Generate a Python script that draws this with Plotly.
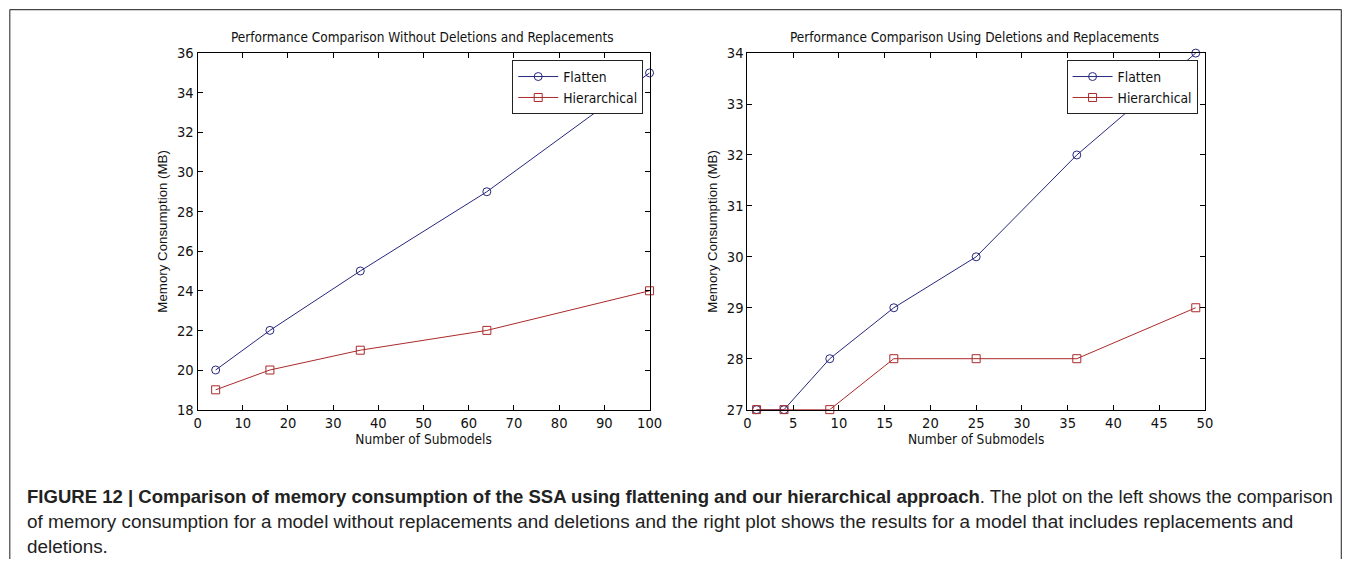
import plotly.graph_objects as go

W, H = 1355, 567

# ---- data ----
left_x = [4, 16, 36, 64, 100]
left_flatten = [20, 22, 25, 29, 35]
left_hier = [19, 20, 21, 22, 24]

right_x = [1, 4, 9, 16, 25, 36, 49]
right_flatten = [27, 27, 28, 29, 30, 32, 34]
right_hier = [27, 27, 27, 28, 28, 28, 29]

left_title = "Performance Comparison Without Deletions and Replacements"
right_title = "Performance Comparison Using Deletions and Replacements"
x_label = "Number of Submodels"
y_label = "Memory Consumption (MB)"
series_names = ["Flatten", "Hierarchical"]

left_xticks = list(range(0, 101, 10))
left_yticks = list(range(18, 37, 2))
right_xticks = list(range(0, 51, 5))
right_yticks = list(range(27, 35, 1))

caption_bold = ("FIGURE 12 | Comparison of memory consumption of the SSA using "
                "flattening and our hierarchical approach")
caption_l1 = ". The plot on the left shows the comparison"
caption_l2 = ("of memory consumption for a model without replacements and deletions "
              "and the right plot shows the results for a model that includes replacements and")
caption_l3 = "deletions."

BLUE = "#27277d"
RED = "#aa2a2a"
NARROW = "Liberation Sans Narrow, DejaVu Sans Condensed, Arial Narrow, sans-serif"
SANS = "Liberation Sans, Arial, Helvetica, sans-serif"

# calibration of the page capture (observed): screen = k * figure + offset
KX, OX = 0.9886, 3.2
KY, OY = 0.9726, 7.8


def px_x(s):
    f = (s - OX) / KX
    return min(max(f / W, 0.0), 0.9995)


def px_y(s):
    f = (s - OY) / KY
    return min(max(1 - f / H, 0.0), 0.999)


fig = go.Figure()

common = dict(mode="lines+markers", cliponaxis=False)

fig.add_trace(go.Scatter(x=left_x, y=left_flatten, name=series_names[0],
                         line=dict(color=BLUE, width=1),
                         marker=dict(symbol="circle-open", size=8, color=BLUE, line=dict(width=1)),
                         xaxis="x", yaxis="y", legend="legend", **common))
fig.add_trace(go.Scatter(x=left_x, y=left_hier, name=series_names[1],
                         line=dict(color=RED, width=1),
                         marker=dict(symbol="square-open", size=8, color=RED, line=dict(width=1)),
                         xaxis="x", yaxis="y", legend="legend", **common))
fig.add_trace(go.Scatter(x=right_x, y=right_flatten, name=series_names[0],
                         line=dict(color=BLUE, width=1),
                         marker=dict(symbol="circle-open", size=8, color=BLUE, line=dict(width=1)),
                         xaxis="x2", yaxis="y2", legend="legend2", **common))
fig.add_trace(go.Scatter(x=right_x, y=right_hier, name=series_names[1],
                         line=dict(color=RED, width=1),
                         marker=dict(symbol="square-open", size=8, color=RED, line=dict(width=1)),
                         xaxis="x2", yaxis="y2", legend="legend2", **common))

axis_common = dict(showgrid=False, zeroline=False, showline=True, linecolor="#000",
                   linewidth=1, mirror="ticks", ticks="inside", ticklen=5,
                   tickcolor="#000", tickfont=dict(family=NARROW, size=14.6, color="#111"))

ydom = [px_y(409.5), px_y(52)]

legend_common = dict(yanchor="top", xanchor="left", bgcolor="white", bordercolor="#222",
                     borderwidth=1, font=dict(family=NARROW, size=13.8, color="#111"),
                     tracegroupgap=0, itemwidth=40)

xtitle_font = dict(family=NARROW, size=13.6, color="#111")
ytitle_font = dict(family=SANS, size=13.3, color="#111")

fig.update_layout(
    width=W, height=H,
    margin=dict(l=0, r=0, t=0, b=0),
    paper_bgcolor="white", plot_bgcolor="white",
    xaxis=dict(domain=[px_x(197), px_x(649.5)], range=[0, 100], tickvals=left_xticks,
               anchor="y", title=dict(text=x_label, font=xtitle_font, standoff=4),
               **axis_common),
    yaxis=dict(domain=ydom, range=[18, 36], tickvals=left_yticks, anchor="x",
               title=dict(text=y_label, font=ytitle_font, standoff=6),
               **axis_common),
    xaxis2=dict(domain=[px_x(747.5), px_x(1205.5)], range=[0, 50], tickvals=right_xticks,
                anchor="y2", title=dict(text=x_label, font=xtitle_font, standoff=4),
                **axis_common),
    yaxis2=dict(domain=ydom, range=[27, 34], tickvals=right_yticks, anchor="x2",
                title=dict(text=y_label, font=ytitle_font, standoff=6),
                **axis_common),
    legend=dict(x=px_x(512), y=px_y(59), **legend_common),
    legend2=dict(x=px_x(1067), y=px_y(59), **legend_common),
    showlegend=True,
)

# subplot titles
title_font = dict(family=NARROW, size=13.5, color="#111")
fig.add_annotation(text=left_title, x=px_x(422), y=px_y(36),
                   xref="paper", yref="paper", showarrow=False, xanchor="center", yanchor="middle",
                   font=title_font)
fig.add_annotation(text=right_title, x=px_x(975), y=px_y(36),
                   xref="paper", yref="paper", showarrow=False, xanchor="center", yanchor="middle",
                   font=title_font)

# caption
fig.add_annotation(text="<b>" + caption_bold + "</b>" + caption_l1, x=px_x(24), y=px_y(497),
                   xref="paper", yref="paper", showarrow=False, xanchor="left", yanchor="middle",
                   font=dict(family=SANS, size=18.55, color="#222"))
fig.add_annotation(text=caption_l2, x=px_x(24), y=px_y(522),
                   xref="paper", yref="paper", showarrow=False, xanchor="left", yanchor="middle",
                   font=dict(family=SANS, size=18.9, color="#222"))
fig.add_annotation(text=caption_l3, x=px_x(24), y=px_y(547),
                   xref="paper", yref="paper", showarrow=False, xanchor="left", yanchor="middle",
                   font=dict(family=SANS, size=18.9, color="#222"))

# outer frame (open at the bottom, like the cropped reference)
frame = dict(type="line", xref="paper", yref="paper", line=dict(color="#444", width=1.2), layer="below")
fig.add_shape(x0=px_x(9), x1=px_x(1349), y0=px_y(7), y1=px_y(7), **frame)
fig.add_shape(x0=px_x(9), x1=px_x(9), y0=px_y(7), y1=0, **frame)
fig.add_shape(x0=px_x(1349), x1=px_x(1349), y0=px_y(7), y1=0, **frame)

fig.write_html("out.html")
